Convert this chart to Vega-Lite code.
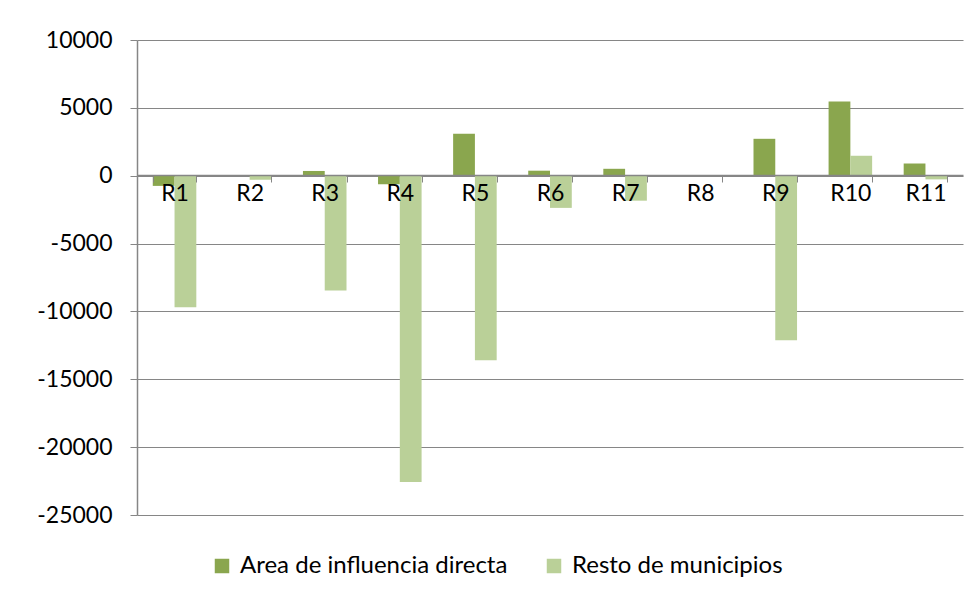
{
  "$schema": "https://vega.github.io/schema/vega-lite/v6.json",
  "width": 826,
  "height": 475,
  "autosize": {"type": "none"},
  "padding": {"left": 137, "top": 40, "right": 14, "bottom": 86},
  "background": "white",
  "config": {
    "view": {"stroke": null},
    "font": "Lato"
  },
  "data": {
    "values": [
      {"region": "R1", "serie": "Area de influencia directa", "valor": -750},
      {"region": "R1", "serie": "Resto de municipios", "valor": -9700},
      {"region": "R2", "serie": "Area de influencia directa", "valor": 0},
      {"region": "R2", "serie": "Resto de municipios", "valor": -300},
      {"region": "R3", "serie": "Area de influencia directa", "valor": 350},
      {"region": "R3", "serie": "Resto de municipios", "valor": -8450},
      {"region": "R4", "serie": "Area de influencia directa", "valor": -620},
      {"region": "R4", "serie": "Resto de municipios", "valor": -22570},
      {"region": "R5", "serie": "Area de influencia directa", "valor": 3100},
      {"region": "R5", "serie": "Resto de municipios", "valor": -13600},
      {"region": "R6", "serie": "Area de influencia directa", "valor": 370},
      {"region": "R6", "serie": "Resto de municipios", "valor": -2370},
      {"region": "R7", "serie": "Area de influencia directa", "valor": 510},
      {"region": "R7", "serie": "Resto de municipios", "valor": -1840},
      {"region": "R8", "serie": "Area de influencia directa", "valor": 0},
      {"region": "R8", "serie": "Resto de municipios", "valor": 0},
      {"region": "R9", "serie": "Area de influencia directa", "valor": 2720},
      {"region": "R9", "serie": "Resto de municipios", "valor": -12130},
      {"region": "R10", "serie": "Area de influencia directa", "valor": 5460},
      {"region": "R10", "serie": "Resto de municipios", "valor": 1470},
      {"region": "R11", "serie": "Area de influencia directa", "valor": 900},
      {"region": "R11", "serie": "Resto de municipios", "valor": -270}
    ]
  },
  "mark": {"type": "bar"},
  "encoding": {
    "x": {
      "field": "region",
      "type": "nominal",
      "sort": null,
      "scale": {"paddingInner": 0.42, "paddingOuter": 0.21},
      "axis": {
        "title": null,
        "labelAngle": 0,
        "labelFont": "Lato",
        "labelFontSize": 23,
        "labelColor": "#000000",
        "labelPadding": 0,
        "offset": -340,
        "domainColor": "#868686",
        "domainWidth": 1.5,
        "tickColor": "#868686",
        "tickSize": 7,
        "tickBand": "extent",
        "grid": false,
        "zindex": 1
      }
    },
    "xOffset": {
      "field": "serie",
      "type": "nominal",
      "scale": {"paddingInner": 0, "paddingOuter": 0}
    },
    "y": {
      "field": "valor",
      "type": "quantitative",
      "scale": {"domain": [-25000, 10000], "nice": false},
      "axis": {
        "title": null,
        "values": [-25000, -20000, -15000, -10000, -5000, 0, 5000, 10000],
        "labelExpr": "'' + datum.value",
        "labelFont": "Lato",
        "labelFontSize": 23,
        "labelColor": "#000000",
        "labelPadding": 18,
        "grid": true,
        "gridColor": "#868686",
        "gridWidth": 1,
        "domainColor": "#868686",
        "domainWidth": 1.5,
        "tickColor": "#868686",
        "tickSize": 7
      }
    },
    "color": {
      "field": "serie",
      "type": "nominal",
      "scale": {
        "domain": ["Area de influencia directa", "Resto de municipios"],
        "range": ["#8AA64E", "#BAD098"]
      },
      "legend": {
        "title": null,
        "orient": "none",
        "legendX": 73,
        "legendY": 514,
        "direction": "horizontal",
        "symbolType": "square",
        "symbolSize": 210,
        "symbolStrokeWidth": 0,
        "labelFont": "Lato",
        "labelFontSize": 24,
        "labelColor": "#000000",
        "labelLimit": 400,
        "columnPadding": 34,
        "labelOffset": 6
      }
    }
  }
}
